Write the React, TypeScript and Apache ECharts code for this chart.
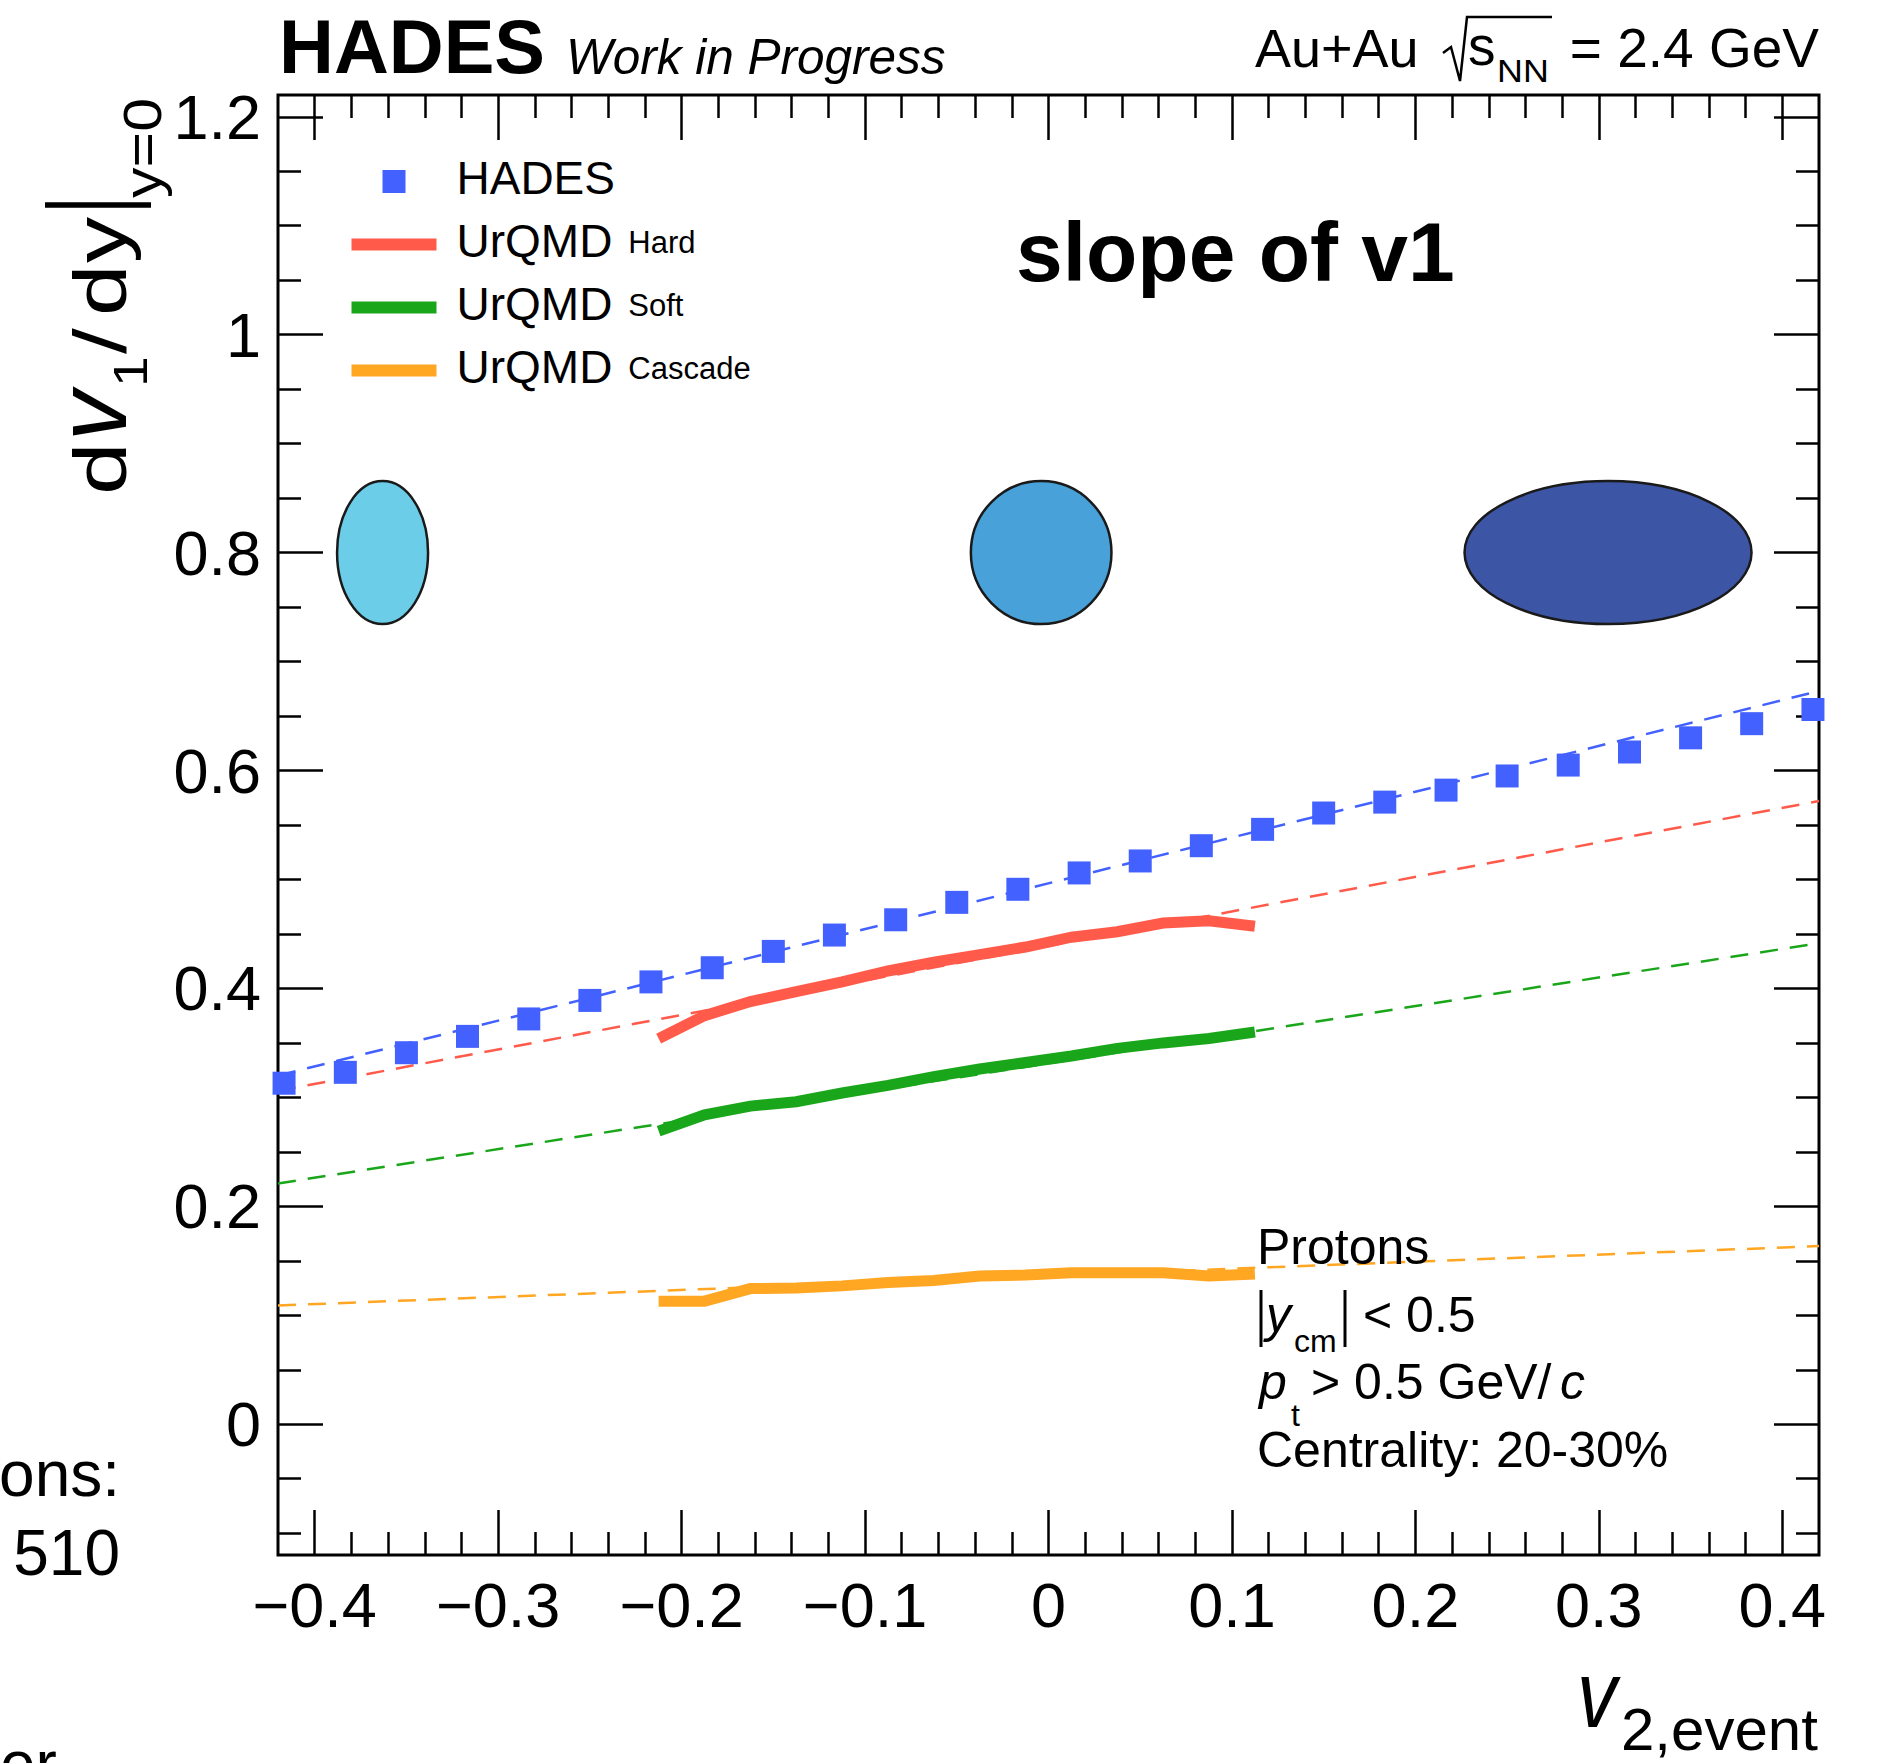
import React, { useEffect, useRef } from "react";
import * as echarts from "echarts";

const FONT = '"Liberation Sans", Arial, Helvetica, sans-serif';

// ---------------- data ----------------
const hadesV2 = [
  -0.4167, -0.3833, -0.35, -0.3167, -0.2833, -0.25, -0.2167, -0.1833, -0.15, -0.1167, -0.0833, -0.05, -0.0167,
  0.0167, 0.05, 0.0833, 0.1167, 0.15, 0.1833, 0.2167, 0.25, 0.2833, 0.3167, 0.35, 0.3833, 0.4167,
];
const hadesSlope = [
  0.313, 0.323, 0.341, 0.356, 0.372, 0.389, 0.406, 0.419, 0.434, 0.449, 0.463, 0.479, 0.491,
  0.506, 0.517, 0.531, 0.546, 0.561, 0.571, 0.582, 0.595, 0.605, 0.617, 0.63, 0.643, 0.656,
];
const urqmdV2 = [
  -0.2125, -0.1875, -0.1625, -0.1375, -0.1125, -0.0875, -0.0625, -0.0375, -0.0125, 0.0125, 0.0375, 0.0625, 0.0875, 0.1125,
];
const urqmdHard = [0.354, 0.375, 0.388, 0.397, 0.406, 0.416, 0.424, 0.431, 0.438, 0.447, 0.452, 0.46, 0.462, 0.457];
const urqmdSoft = [0.269, 0.284, 0.292, 0.296, 0.304, 0.311, 0.319, 0.326, 0.332, 0.338, 0.345, 0.35, 0.354, 0.36];
const urqmdCascade = [0.113, 0.113, 0.1245, 0.125, 0.127, 0.13, 0.132, 0.136, 0.137, 0.139, 0.139, 0.139, 0.136, 0.138];

const fitV2 = [-0.42, 0.42];
const fitHades = [0.32, 0.673];
const fitHard = [0.306, 0.572];
const fitSoft = [0.221, 0.4415];
const fitCascade = [0.109, 0.1635];

const shapeV2 = [-0.363, -0.004, 0.305];
const shapeSlope = [0.8, 0.8, 0.8];

const xMajorTicks = [-0.4, -0.3, -0.2, -0.1, 0, 0.1, 0.2, 0.3, 0.4];
const xTickLabels = ["\u22120.4", "\u22120.3", "\u22120.2", "\u22120.1", "0", "0.1", "0.2", "0.3", "0.4"];
const xMinorTicks = [
  -0.38, -0.36, -0.34, -0.32, -0.28, -0.26, -0.24, -0.22, -0.18, -0.16, -0.14, -0.12, -0.08, -0.06, -0.04, -0.02,
  0.02, 0.04, 0.06, 0.08, 0.12, 0.14, 0.16, 0.18, 0.22, 0.24, 0.26, 0.28, 0.32, 0.34, 0.36, 0.38,
];
const yMajorTicks = [0, 0.2, 0.4, 0.6, 0.8, 1.0, 1.2];
const yTickLabels = ["0", "0.2", "0.4", "0.6", "0.8", "1", "1.2"];
const yMinorTicks = [
  -0.1, -0.05, 0.05, 0.1, 0.15, 0.25, 0.3, 0.35, 0.45, 0.5, 0.55, 0.65, 0.7, 0.75, 0.85, 0.9, 0.95, 1.05, 1.1, 1.15,
];

const legendNames = ["HADES", "UrQMD Hard", "UrQMD Soft", "UrQMD Cascade"];

// ---------------- styles ----------------
const X_MIN = -0.42;
const X_MAX = 0.42;
const Y_MIN = -0.12;
const Y_MAX = 1.22;
const COLORS = { hades: "#4361ff", hard: "#ff5a4a", soft: "#1aa61a", cascade: "#ffa623" };
const SHAPE_STYLE = [
  { rx: 45.5, ry: 71.5, fill: "#6ccde8" },
  { rx: 70.3, ry: 71.5, fill: "#48a2d9" },
  { rx: 143.5, ry: 71.5, fill: "#3c56a5" },
];
const SQUARE_ICON = "path://M0,0H10V10H0Z";
const LINE_ICON = "path://M0,0H85V12H0Z";

const zip = (xs: number[], ys: number[]) => xs.map((x, i) => [x, ys[i]]);
const findLabel = (vals: number[], labels: string[], v: number) => {
  const i = vals.findIndex((t) => Math.abs(t - v) < 1e-9);
  return i >= 0 ? labels[i] : "";
};

const T = (text: string, x: number, base: number, size: number, o: any = {}) => ({
  type: "text",
  x,
  y: base - 0.3465 * size,
  scaleX: o.sx ?? 1,
  silent: true,
  z: 100,
  style: {
    text,
    fill: "#000",
    fontSize: size,
    fontFamily: FONT,
    fontStyle: o.it ? "italic" : "normal",
    fontWeight: o.b ? "bold" : "normal",
    align: o.align ?? "left",
    verticalAlign: "middle",
  },
});

const tickStyle = { color: "#000", width: 2.5 };

const xAxisDef = (position: string, ticks: number[], length: number, labels: boolean) => ({
  type: "value",
  position,
  min: X_MIN,
  max: X_MAX,
  splitLine: { show: false },
  axisLine: { show: false, onZero: false },
  minorTick: { show: false },
  axisTick: { show: true, inside: true, length, customValues: ticks, lineStyle: tickStyle },
  axisLabel: labels
    ? {
        show: true,
        customValues: xMajorTicks,
        formatter: (v: number) => findLabel(xMajorTicks, xTickLabels, v),
        margin: 18,
        fontSize: 63,
        lineHeight: 63,
        fontFamily: FONT,
        color: "#000",
      }
    : { show: false },
});

const yAxisDef = (position: string, ticks: number[], length: number, labels: boolean) => ({
  type: "value",
  position,
  min: Y_MIN,
  max: Y_MAX,
  splitLine: { show: false },
  axisLine: { show: false, onZero: false },
  minorTick: { show: false },
  axisTick: { show: true, inside: true, length, customValues: ticks, lineStyle: tickStyle },
  axisLabel: labels
    ? {
        show: true,
        customValues: yMajorTicks,
        formatter: (v: number) => findLabel(yMajorTicks, yTickLabels, v),
        margin: 17,
        fontSize: 63,
        lineHeight: 63,
        fontFamily: FONT,
        color: "#000",
      }
    : { show: false },
});

const fitSeries = (ys: number[], color: string) => ({
  type: "line",
  data: zip(fitV2, ys),
  symbol: "none",
  silent: true,
  lineStyle: { color, width: 2.5, type: [18, 12], opacity: 1 },
  itemStyle: { color },
  z: 2,
});

const modelSeries = (name: string, ys: number[], color: string) => ({
  type: "line",
  name,
  data: zip(urqmdV2, ys),
  symbol: "none",
  silent: true,
  lineStyle: { color, width: 11, join: "miter", opacity: 1 },
  itemStyle: { color, opacity: 1 },
  z: 3,
});

function buildOption() {
  const graphicElements: any[] = [
    // header
    T("HADES", 279, 73, 76, { b: true }),
    T("Work in Progress", 566, 74, 49.5, { it: true }),
    T("Au+Au", 1255, 67, 54),
    T("s", 1468, 65, 55),
    T("NN", 1497, 82, 32, { sx: 1.12 }),
    T("= 2.4 GeV", 1819, 67, 55, { align: "right" }),
    {
      type: "polyline",
      silent: true,
      shape: { points: [[1443, 53], [1451, 47], [1460, 81], [1467, 17], [1552, 17]] },
      style: { stroke: "#000", lineWidth: 2.5, fill: null },
    },
    // y-axis title (rotated)
    {
      type: "group",
      x: 0,
      y: 500,
      rotation: Math.PI / 2,
      children: [
        T("d", 5, 126, 74, { sx: 1.28 }),
        T("v", 59, 126, 100, { it: true }),
        T("1", 113, 147, 48, { sx: 1.15 }),
        T("/", 146, 126, 74, { sx: 1.25 }),
        T("d", 184, 126, 74, { sx: 1.25 }),
        T("y", 237, 126, 74, { sx: 1.25 }),
        T("y=0", 302, 161, 54, { sx: 1.13 }),
      ],
    },
    {
      type: "line",
      silent: true,
      shape: { x1: 45, y1: 205, x2: 151, y2: 205 },
      style: { stroke: "#000", lineWidth: 5.5 },
    },
    // x-axis title
    T("v", 1577, 1727, 94, { it: true, sx: 0.85 }),
    T("2,event", 1621, 1750, 60),
    // in-plot annotations
    T("slope of v1", 1016, 281, 84, { b: true }),
    T("Protons", 1257, 1264, 50),
    {
      type: "line",
      silent: true,
      shape: { x1: 1261, y1: 1290, x2: 1261, y2: 1347 },
      style: { stroke: "#000", lineWidth: 3 },
    },
    T("y", 1266, 1332, 50, { it: true }),
    T("cm", 1294, 1352, 32),
    {
      type: "line",
      silent: true,
      shape: { x1: 1345, y1: 1290, x2: 1345, y2: 1347 },
      style: { stroke: "#000", lineWidth: 3 },
    },
    T("< 0.5", 1363, 1332, 50),
    T("p", 1259, 1399, 50, { it: true }),
    T("t", 1291, 1426, 32),
    T("> 0.5 GeV/", 1311, 1399, 50),
    T("c", 1560, 1399, 50, { it: true }),
    T("Centrality: 20-30%", 1257, 1467, 50),
    // clipped fragments at the left edge
    T("ons:", 120, 1496, 64, { align: "right" }),
    T("510", 120, 1575, 64, { align: "right" }),
    T("er", 0, 1786, 64),
  ];

  return {
    animation: false,
    backgroundColor: "#fff",
    grid: {
      left: 278,
      right: 61,
      top: 95,
      bottom: 208,
      show: true,
      borderColor: "#000",
      borderWidth: 3,
      backgroundColor: "transparent",
      containLabel: false,
      outerBoundsMode: "none",
    },
    xAxis: [
      xAxisDef("bottom", xMajorTicks, 45, true),
      xAxisDef("bottom", xMinorTicks, 23, false),
      xAxisDef("top", xMajorTicks, 45, false),
      xAxisDef("top", xMinorTicks, 23, false),
    ],
    yAxis: [
      yAxisDef("left", yMajorTicks, 45, true),
      yAxisDef("left", yMinorTicks, 23, false),
      yAxisDef("right", yMajorTicks, 45, false),
      yAxisDef("right", yMinorTicks, 23, false),
    ],
    legend: {
      show: true,
      orient: "vertical",
      left: 351.5,
      top: 154.5,
      padding: 0,
      itemGap: 9,
      itemWidth: 85,
      itemHeight: 23,
      selectedMode: false,
      symbolKeepAspect: true,
      itemStyle: { borderWidth: 0, opacity: 1 },
      data: [
        { name: legendNames[0], icon: SQUARE_ICON },
        { name: legendNames[1], icon: LINE_ICON },
        { name: legendNames[2], icon: LINE_ICON },
        { name: legendNames[3], icon: LINE_ICON },
      ],
      formatter: (name: string) =>
        name === "HADES" ? "{a|HADES}" : `{a|UrQMD}{b|${name.split(" ")[1]}}`,
      textStyle: {
        color: "#000",
        fontFamily: FONT,
        fontSize: 46,
        rich: {
          a: { fontFamily: FONT, fontSize: 46, lineHeight: 46, color: "#000", padding: [0, 0, 8, 15] },
          b: {
            fontFamily: FONT,
            fontSize: 31,
            lineHeight: 31,
            color: "#000",
            verticalAlign: "bottom",
            padding: [0, 0, 10, 16],
          },
        },
      },
    },
    series: [
      {
        type: "custom",
        silent: true,
        data: zip(shapeV2, shapeSlope),
        z: 1,
        renderItem: (params: any, api: any) => {
          const c = api.coord([api.value(0), api.value(1)]);
          const s = SHAPE_STYLE[params.dataIndex];
          return {
            type: "ellipse",
            shape: { cx: c[0], cy: c[1], rx: s.rx, ry: s.ry },
            style: { fill: s.fill, stroke: "#1a1a1a", lineWidth: 2.5 },
          };
        },
      },
      fitSeries(fitHades, COLORS.hades),
      fitSeries(fitHard, COLORS.hard),
      fitSeries(fitSoft, COLORS.soft),
      fitSeries(fitCascade, COLORS.cascade),
      modelSeries(legendNames[1], urqmdHard, COLORS.hard),
      modelSeries(legendNames[2], urqmdSoft, COLORS.soft),
      modelSeries(legendNames[3], urqmdCascade, COLORS.cascade),
      {
        type: "scatter",
        name: legendNames[0],
        data: zip(hadesV2, hadesSlope),
        symbol: "rect",
        symbolSize: 23,
        silent: true,
        itemStyle: { color: COLORS.hades, opacity: 1 },
        z: 4,
      },
    ],
    graphic: { elements: graphicElements },
  };
}

export default function App() {
  const ref = useRef<HTMLDivElement>(null);
  useEffect(() => {
    if (!ref.current) return;
    const chart = echarts.init(ref.current, null, { renderer: "svg" });
    chart.setOption(buildOption() as any);
    return () => chart.dispose();
  }, []);
  return (
    <div
      ref={ref}
      style={{ position: "absolute", left: 0, top: 0, width: 1880, height: 1763, background: "#fff" }}
    />
  );
}
